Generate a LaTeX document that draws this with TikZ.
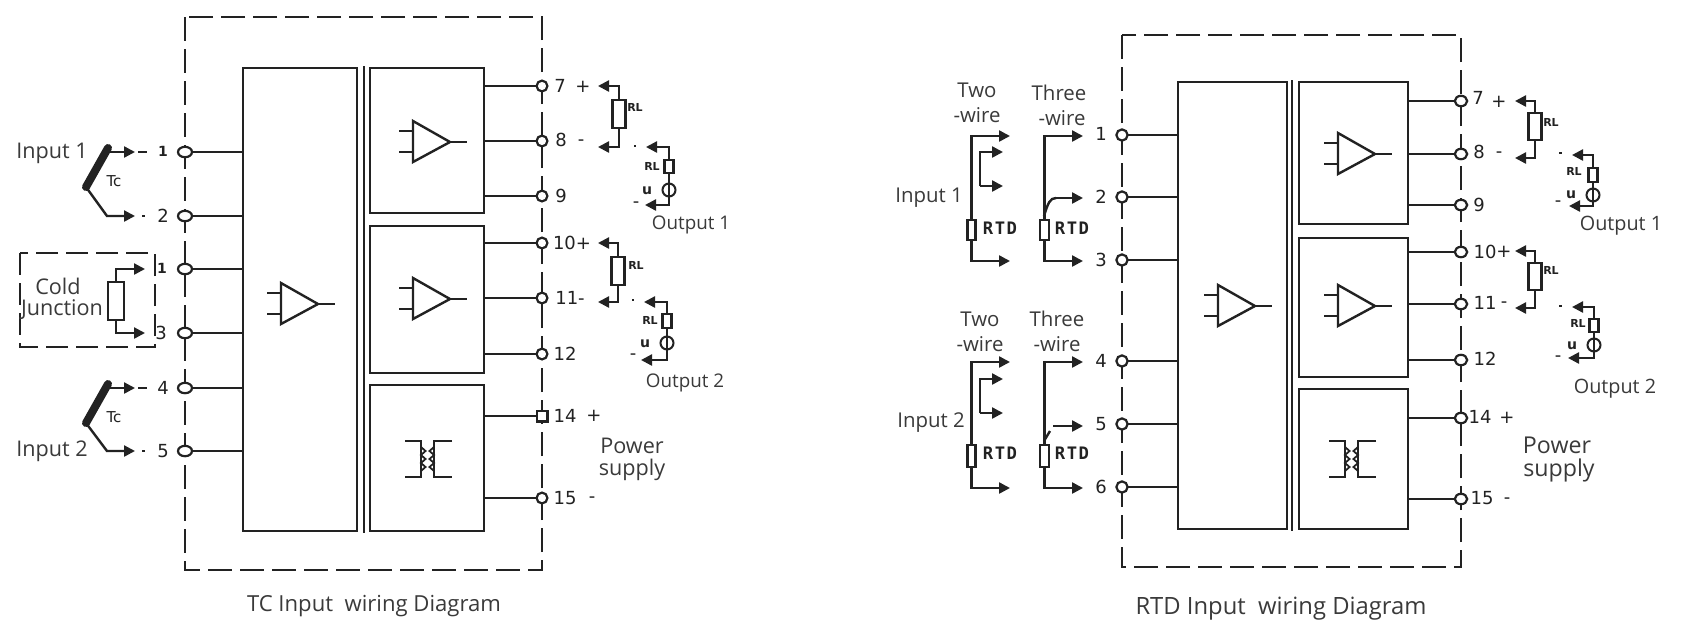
\documentclass[tikz,border=0pt]{standalone}
\usepackage{fontspec}
\setmainfont{Open Sans}
\newfontfamily\pinfont{DejaVu Sans}
\newfontfamily\rtdfont[LetterSpace=9]{DejaVu Sans Mono}
\usetikzlibrary{arrows.meta,fit,shapes.geometric}
\definecolor{ink}{HTML}{222222}
\definecolor{txt}{HTML}{3A3A3A}
\tikzset{
  wire/.style={draw=ink,line width=1.2pt},
  thin wire/.style={draw=ink,line width=.9pt},
  arrowed/.style={wire,-{Triangle[length=5.5pt,width=5.5pt]}},
  blk/.style={draw=ink,line width=1.35pt,inner sep=0pt,outer sep=0pt},
  res/.style={draw=ink,line width=1.1pt,inner sep=0pt,outer sep=0pt,fill=white},
  enclosure/.style={draw=ink,line width=1.35pt,dash pattern=on 12pt off 4pt},
  termE/.style={ellipse,draw=ink,fill=white,line width=1.1pt,inner sep=0pt,outer sep=0pt,minimum width=7pt,minimum height=5.2pt},
  termC/.style={circle,draw=ink,fill=white,line width=1.1pt,inner sep=0pt,outer sep=0pt,minimum size=5.4pt},
  termS/.style={rectangle,draw=ink,fill=white,line width=1.1pt,inner sep=0pt,outer sep=0pt,minimum size=5.4pt},
  pinlab/.style={font=\pinfont\fontsize{9}{10}\selectfont,text=ink,inner sep=0pt},
  smalllab/.style={font=\pinfont\bfseries\fontsize{5.5}{6}\selectfont,text=ink,inner sep=0pt},
  rtdlab/.style={font=\rtdfont\bfseries\fontsize{8.6}{9}\selectfont,text=ink,inner sep=0pt},
  name lab/.style={font=\fontsize{10.8}{12}\selectfont,text=txt,inner sep=0pt},
  name lab b/.style={font=\fontsize{10.2}{12}\selectfont,text=txt,inner sep=0pt},
  out lab/.style={font=\fontsize{9.4}{11}\selectfont,text=txt,inner sep=0pt},
  out lab b/.style={font=\fontsize{9.9}{11}\selectfont,text=txt,inner sep=0pt},
  cap lab/.style={font=\fontsize{11.05}{13}\selectfont,text=txt,inner sep=0pt},
  cap lab b/.style={font=\fontsize{11.9}{14}\selectfont,text=txt,inner sep=0pt},
}
\newcounter{lbl}
\newcommand{\lab}[4]{\stepcounter{lbl}\node[#1] (lbl\arabic{lbl}) at (#2,#3) {#4};}
\newcommand{\bx}[6][blk]{\node[#1,fit={(#3,#4)(#5,#6)}] (#2) {};}
% amplifier symbol, given by its tip
\newcommand{\ampsym}[3]{%
  \begin{scope}[shift={(#2,#3)}]
    \coordinate (#1 tip) at (0,0);
    \coordinate (#1 a) at (-37,-21);
    \coordinate (#1 b) at (-37,20);
    \coordinate (#1 out) at (17,0);
    \coordinate (#1 ia) at (-51,-11);
    \coordinate (#1 ib) at (-51,10);
    \draw[wire] (#1 a) -- (#1 tip) -- (#1 b) -- cycle;
    \draw[wire] (#1 tip) -- (#1 out);
    \draw[wire] (#1 ia) -- (#1 ia -| #1 a);
    \draw[wire] (#1 ib) -- (#1 ib -| #1 a);
  \end{scope}}
% transformer symbol
\newcommand{\xfmr}[3]{%
  \begin{scope}[shift={(#2,#3)}]
    \coordinate (#1 l1) at (-23,-18); \coordinate (#1 l2) at (-7,-18);
    \coordinate (#1 l3) at (-7,18);   \coordinate (#1 l4) at (-23,18);
    \coordinate (#1 r1) at (24,-18);  \coordinate (#1 r2) at (6,-18);
    \coordinate (#1 r3) at (6,18);    \coordinate (#1 r4) at (24,18);
    \draw[wire] (#1 l1) -- (#1 l2) -- (#1 l3) -- (#1 l4);
    \draw[wire] (#1 r1) -- (#1 r2) -- (#1 r3) -- (#1 r4);
    \draw[thin wire] (-7,-12) -- (-2.5,-8) -- (-7,-4) -- (-2.5,0) -- (-7,4) -- (-2.5,8) -- (-7,12);
    \draw[thin wire] (6,-12) -- (1.5,-8) -- (6,-4) -- (1.5,0) -- (6,4) -- (1.5,8) -- (6,12);
  \end{scope}}
% load resistor across an output pair: name, tip x, wire x, y top, y bottom, res half width, res top, res bottom
\newcommand{\loadres}[8]{%
  \bx[res]{#1 r}{#3-#6}{#7}{#3+#6}{#8}
  \coordinate (#1 t) at (#2,#4);
  \coordinate (#1 b) at (#2,#5);
  \draw[arrowed] (#1 r.north) |- (#1 t);
  \draw[arrowed] (#1 r.south) |- (#1 b);}
% current loop: name, tip x top, tip x bottom, wire x, y top, y bottom, res top, res bottom, meter y
\newcommand{\loadloop}[9]{%
  \coordinate (#1 t) at (#2,#5);
  \coordinate (#1 b) at (#3,#6);
  \coordinate (#1 c) at (#4,#6);
  \bx[res]{#1 r}{#4-4.5}{#7}{#4+4.5}{#8}
  \node[circle,draw=ink,line width=1pt,fill=white,inner sep=0pt,minimum size=6.5pt] (#1 m) at (#4,#9) {};
  \draw[arrowed] (#1 r.north) |- (#1 t);
  \draw[wire] (#1 r.south) -- (#1 m.north);
  \draw[wire] (#1 m.north) -- (#1 m.south);
  \draw[arrowed] (#1 m.south) -- (#1 c) -- (#1 b);}
% thermocouple: name, y top, y bottom arrow
\newcommand{\tcouple}[3]{%
  \coordinate (#1 hi) at (108,#2-4);
  \coordinate (#1 lo) at (86,#2+35);
  \coordinate (#1 t) at (135,#2);
  \coordinate (#1 k) at (107,#3);
  \coordinate (#1 b) at (135,#3);
  \draw[draw=ink,line width=4pt,line cap=round] (#1 hi) -- (#1 lo);
  \draw[arrowed] (#1 hi) -- (108,#2) -- (#1 t);
  \draw[arrowed] (#1 lo) -- (#1 k) -- (#1 b);
  \coordinate (#1 d1) at (138,#2); \coordinate (#1 d2) at (147,#2);
  \coordinate (#1 d3) at (142,#3); \coordinate (#1 d4) at (145,#3);
  \draw[wire] (#1 d1) -- (#1 d2);
  \draw[wire] (#1 d3) -- (#1 d4);
  \lab{smalllab,font=\pinfont\fontsize{7.5}{8}\selectfont}{114}{#2+29}{Tc}}
% RTD, two-wire
\newcommand{\rtdtwo}[7]{%
  \bx[res]{#1 r}{967.5}{#5}{975.5}{#6}
  \coordinate (#1 t) at (1010,#2);
  \coordinate (#1 b) at (1010,#7);
  \draw[arrowed] (#1 r.north) |- (#1 t);
  \draw[arrowed] (#1 r.south) |- (#1 b);
  \coordinate (#1 ia) at (1003,#3);
  \coordinate (#1 ib) at (1003,#4);
  \coordinate (#1 ik) at (980,#3);
  \coordinate (#1 il) at (980,#4);
  \draw[arrowed] (#1 il) -- (#1 ik) -- (#1 ia);
  \draw[arrowed] (#1 il) -- (#1 ib);}
\newcommand{\rtdthree}[5]{%
  \bx[res]{#1 r}{1040}{#4}{1049}{#5}
  \coordinate (#1 t) at (1083,#2);
  \coordinate (#1 w) at (1083,#3);
  \coordinate (#1 s) at (1044,#4-4);
  \draw[arrowed] (#1 r.north) |- (#1 t);}
\begin{document}
\begin{tikzpicture}[x=0.5pt,y=-0.5pt]
\useasboundingbox (0,0) rectangle (1698,634);
\fill[white] (0,0) rectangle (1698,634);

%% ============ left diagram
\coordinate (ea) at (185,17); \coordinate (eb) at (542,570);
\draw[enclosure] (ea) rectangle (eb);
\bx{biga}{243}{68}{357}{531}
\coordinate (sa1) at (364,66); \coordinate (sa2) at (364,533);
\draw[blk] (sa1) -- (sa2);
\bx{a1b}{370}{68}{484}{213}
\bx{a2b}{370}{226}{484}{373}
\bx{a3b}{370}{385}{484}{531}
\ampsym{ampa}{318}{304}
\ampsym{ampa1}{450}{142}
\ampsym{ampa2}{450}{299}
\xfmr{xa}{428}{459}

\foreach \n/\y in {1/152,2/216,c1/269,c3/333,4/388,5/451}{
  \node[termE] (a\n) at (185,\y) {};
  \draw[wire] (a\n) -- (a\n -| biga.west);
}
\foreach \n/\y/\b in {7/86/a1b,8/141/a1b,9/196/a1b,10/243/a2b,11/298/a2b,12/354/a2b,15/498/a3b}{
  \node[termC] (a\n) at (542,\y) {};
  \draw[wire] (a\n) -- (a\n -| \b.east);
}
\node[termS] (a14) at (542,416) {};
\draw[wire] (a14) -- (a14 -| a3b.east);

\lab{pinlab,font=\pinfont\bfseries\fontsize{7}{8}\selectfont}{163}{151}{1}
\lab{pinlab}{163}{216}{2}
\lab{pinlab,font=\pinfont\bfseries\fontsize{7}{8}\selectfont}{162}{268}{1}
\lab{pinlab}{161}{333}{3}
\lab{pinlab}{163}{388}{4}
\lab{pinlab}{163}{451}{5}

\lab{pinlab}{560}{86}{7}
\lab{pinlab}{583}{87}{+}
\lab{pinlab}{561}{140}{8}
\lab{pinlab}{581}{143}{-}
\lab{pinlab}{561}{196}{9}
\lab{pinlab}{572}{243}{10+}
\lab{pinlab}{570}{298}{11-}
\lab{pinlab}{565}{354}{12}
\lab{pinlab}{565}{416}{14}
\lab{pinlab}{594}{416}{+}
\lab{pinlab}{565}{498}{15}
\lab{pinlab}{592}{500}{-}

\tcouple{tca}{152}{216}
\tcouple{tcb}{388}{451}
\lab{name lab}{52}{153}{Input 1}
\lab{name lab}{52}{451}{Input 2}

% cold junction
\coordinate (cja) at (20,253); \coordinate (cjb) at (155,347);
\draw[draw=ink,line width=1.2pt,dash pattern=on 11pt off 4pt] (cja) rectangle (cjb);
\bx[res]{cjr}{108}{282}{124}{320}
\coordinate (cjt) at (145,269); \coordinate (cjd) at (145,333);
\draw[arrowed] (cjr.north) |- (cjt);
\draw[arrowed] (cjr.south) |- (cjd);
\lab{name lab}{58}{286}{Cold}
\lab{name lab}{62}{310}{Junction}

% outputs
\loadres{la1}{598}{619}{86}{147}{6.5}{100}{128}
\lab{smalllab}{635}{107}{RL}
\coordinate (la1x) at (634,146); \coordinate (la1y) at (636,146);
\draw[wire] (la1x) -- (la1y);
\loadloop{lo1}{646}{645}{669}{147}{205}{160}{173}{190}
\lab{smalllab}{652}{166}{RL}
\lab{smalllab,font=\pinfont\bfseries\fontsize{7}{8}\selectfont}{647}{191}{u}
\lab{pinlab}{636}{205}{-}
\lab{out lab}{691}{225}{Output 1}

\loadres{la2}{598}{618}{243}{302}{6.5}{257}{285}
\lab{smalllab}{636}{265}{RL}
\coordinate (la2x) at (632,300); \coordinate (la2y) at (634,300);
\draw[wire] (la2x) -- (la2y);
\loadloop{lo2}{644}{641}{667}{302}{360}{314}{328}{343}
\lab{smalllab}{650}{320}{RL}
\lab{smalllab,font=\pinfont\bfseries\fontsize{7}{8}\selectfont}{645}{344}{u}
\lab{pinlab}{633}{357}{-}
\lab{out lab}{685}{383}{Output 2}

\lab{name lab}{632}{446}{Power}
\lab{name lab}{632}{470}{supply}
\lab{cap lab}{374}{606}{TC Input\ \ wiring Diagram}

%% ============ right diagram
\coordinate (fa) at (1122,35); \coordinate (fb) at (1461,567);
\draw[enclosure] (fa) rectangle (fb);
\bx{bigb}{1178}{82}{1287}{529}
\coordinate (sb1) at (1292,80); \coordinate (sb2) at (1292,531);
\draw[blk] (sb1) -- (sb2);
\bx{b1b}{1299}{82}{1408}{224}
\bx{b2b}{1299}{238}{1408}{377}
\bx{b3b}{1299}{389}{1408}{529}
\ampsym{ampb}{1255}{306}
\ampsym{ampb1}{1375}{154}
\ampsym{ampb2}{1375}{306}
\xfmr{xb}{1352}{459}

\foreach \n/\y in {1/135,2/197,3/260,4/361,5/424,6/487}{
  \node[termC,minimum size=5.6pt] (b\n) at (1122,\y) {};
  \draw[wire] (b\n) -- (b\n -| bigb.west);
}
\foreach \n/\y/\b in {7/101/b1b,8/154/b1b,9/205/b1b,10/252/b2b,11/304/b2b,12/360/b2b,14/418/b3b,15/499/b3b}{
  \node[termE,minimum width=6.2pt,minimum height=5.2pt] (b\n) at (1461,\y) {};
  \draw[wire] (b\n) -- (b\n -| \b.east);
}
\lab{pinlab}{1101}{134}{1}
\lab{pinlab}{1101}{197}{2}
\lab{pinlab}{1101}{260}{3}
\lab{pinlab}{1101}{361}{4}
\lab{pinlab}{1101}{424}{5}
\lab{pinlab}{1101}{487}{6}

\lab{pinlab}{1478}{98}{7}
\lab{pinlab}{1499}{102}{+}
\lab{pinlab}{1479}{152}{8}
\lab{pinlab}{1499}{155}{-}
\lab{pinlab}{1479}{205}{9}
\lab{pinlab}{1485}{252}{10}
\lab{pinlab}{1504}{252}{+}
\lab{pinlab}{1485}{303}{11}
\lab{pinlab}{1504}{305}{-}
\lab{pinlab}{1485}{359}{12}
\lab{pinlab}{1480}{417}{14}
\lab{pinlab}{1507}{418}{+}
\lab{pinlab}{1482}{498}{15}
\lab{pinlab}{1507}{501}{-}

% RTD input 1
\rtdtwo{ra}{136}{152}{186}{220}{240}{261}
\rtdthree{rb}{136}{198}{220}{240}
\coordinate (rbb) at (1083,261);
\draw[arrowed] (rb r.south) |- (rbb);
\coordinate (rbk) at (1056,198);
\draw[wire] (rb s) .. controls (1048,203) and (1050,198) .. (rbk);
\draw[arrowed] (rbk) -- (rb w);
\lab{rtdlab}{1000}{228}{RTD}
\lab{rtdlab}{1072}{228}{RTD}
\lab{name lab b}{977}{90}{Two}
\lab{name lab b}{977}{115}{-wire}
\lab{name lab b}{1059}{93}{Three}
\lab{name lab b}{1062}{118}{-wire}
\lab{name lab b}{929}{198}{Input 1}

% RTD input 2
\rtdtwo{rc}{362}{379}{413}{445}{467}{488}
\rtdthree{rd}{362}{426}{445}{467}
\coordinate (rdb) at (1083,488);
\draw[arrowed] (rd r.south) |- (rdb);
\coordinate (rdk) at (1053,426);
\coordinate (rdm) at (1050,431);
\draw[wire] (rd s) -- (rdm);
\draw[arrowed] (rdk) -- (rd w);
\lab{rtdlab}{1000}{453}{RTD}
\lab{rtdlab}{1072}{453}{RTD}
\lab{name lab b}{980}{319}{Two}
\lab{name lab b}{980}{344}{-wire}
\lab{name lab b}{1057}{319}{Three}
\lab{name lab b}{1057}{344}{-wire}
\lab{name lab b}{931}{423}{Input 2}

% outputs
\loadres{lb1}{1515}{1535}{101}{158}{6.5}{113}{140}
\lab{smalllab}{1551}{122}{RL}
\coordinate (lb1x) at (1559,153); \coordinate (lb1y) at (1562,153);
\draw[wire] (lb1x) -- (lb1y);
\loadloop{lq1}{1572}{1569}{1593}{155}{206}{168}{182}{195}
\lab{smalllab}{1574}{171}{RL}
\lab{smalllab,font=\pinfont\bfseries\fontsize{7}{8}\selectfont}{1571}{195}{u}
\lab{pinlab}{1558}{204}{-}
\lab{out lab b}{1621}{226}{Output 1}

\loadres{lb2}{1515}{1535}{251}{308}{6.5}{263}{290}
\lab{smalllab}{1551}{270}{RL}
\coordinate (lb2x) at (1559,306); \coordinate (lb2y) at (1562,306);
\draw[wire] (lb2x) -- (lb2y);
\loadloop{lq2}{1572}{1568}{1594}{307}{358}{319}{332}{345}
\lab{smalllab}{1578}{323}{RL}
\lab{smalllab,font=\pinfont\bfseries\fontsize{7}{8}\selectfont}{1572}{346}{u}
\lab{pinlab}{1558}{359}{-}
\lab{out lab b}{1615}{389}{Output 2}

\lab{name lab,font=\fontsize{11.6}{13}\selectfont}{1557}{445}{Power}
\lab{name lab,font=\fontsize{11.6}{13}\selectfont}{1559}{470}{supply}
\lab{cap lab b}{1281}{609}{RTD Input\ \ wiring Diagram}
\end{tikzpicture}
\end{document}
